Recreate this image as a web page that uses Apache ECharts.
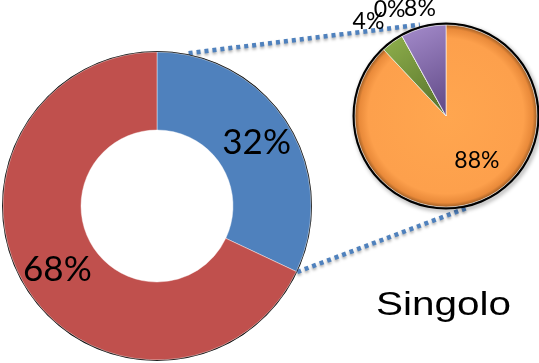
<!DOCTYPE html>
<html>
<head>
<meta charset="utf-8">
<script src="https://cdn.jsdelivr.net/npm/echarts@6/dist/echarts.min.js"></script>
<style>html,body{margin:0;padding:0;background:#fff}#c{width:539px;height:363px}</style>
</head>
<body>
<div id="c"></div>
<script>
// ---- data ----
const donutCategories = ['Parte 1', 'Parte 2'];
const donutValues = [32, 68];
const pieCategories = ['Sotto 1', 'Sotto 2', 'Sotto 3', 'Sotto 4'];
const pieValues = [88, 4, 0, 8];
const chartTitle = 'Singolo';

// ---- layout ----
const donutCenter = [157, 206];
const donutRadius = [76, 154];
const pieCenter = [446, 116];
const pieRadius = 91;

function polar(c, r, deg) {
  const a = deg * Math.PI / 180;
  return [c[0] + r * Math.sin(a), c[1] - r * Math.cos(a)];
}
const donutTotal = donutValues.reduce((a, b) => a + b, 0);
const splitAngle = donutValues[0] / donutTotal * 360;
const pieTotal = pieValues.reduce((a, b) => a + b, 0);

const l1a = polar(donutCenter, donutRadius[1] + 2, 11.7);
const l1b = polar(pieCenter, pieRadius + 4, 344);
const l2a = polar(donutCenter, donutRadius[1] + 1, splitAngle);
const l2b = polar(pieCenter, pieRadius + 3, 166);

const lineStyle = {
  stroke: '#4f81bd', lineWidth: 4.5, lineDash: [4, 4], lineCap: 'butt',
  shadowColor: 'rgba(0,0,0,0.35)', shadowBlur: 3, shadowOffsetY: 2
};

const donutColors = ['#4f81bd', '#c0504d'];
const pieColors = [
  { type: 'radial', x: 0.5, y: 0.5, r: 0.5, colorStops: [
    { offset: 0, color: '#ffa64f' }, { offset: 0.85, color: '#fda04c' },
    { offset: 0.95, color: '#e98a3a' }, { offset: 1, color: '#9a5a22' }] },
  { type: 'linear', x: 0, y: 0, x2: 1, y2: 1, colorStops: [
    { offset: 0, color: '#8fb04c' }, { offset: 1, color: '#55702a' }] },
  '#7f7f7f',
  { type: 'linear', x: 0, y: 0, x2: 1, y2: 1, colorStops: [
    { offset: 0, color: '#a58ccc' }, { offset: 1, color: '#5e4784' }] }
];
const pieLabelOffsets = [[13, -1], [-49, -55], [-33, -64], [-14, -60]];
const pieLabelSizes = [23, 23, 23, 23];
const labelFont = 'Lato, "Open Sans", sans-serif';

// labels for zero-value slices (ECharts hides them), placed like the inside labels
const zeroLabels = [];
let cum = 0;
pieValues.forEach((v, i) => {
  const start = cum / pieTotal * 360;
  cum += v;
  const end = cum / pieTotal * 360;
  if (v === 0) {
    const p = polar(pieCenter, pieRadius / 2 + 3, (start + end) / 2);
    zeroLabels.push({
      type: 'text', z: 20, x: p[0] + pieLabelOffsets[i][0], y: p[1] + pieLabelOffsets[i][1],
      style: { text: Math.round(v / pieTotal * 100) + '%', fill: '#000',
        font: pieLabelSizes[i] + 'px ' + labelFont, align: 'center', verticalAlign: 'middle' }
    });
  }
});

const chart = echarts.init(document.getElementById('c'), null, { renderer: 'canvas' });
chart.setOption({
  animation: false,
  backgroundColor: '#fff',
  graphic: [
    { type: 'line', z: 1, shape: { x1: l1a[0], y1: l1a[1], x2: l1b[0], y2: l1b[1] }, style: lineStyle },
    { type: 'line', z: 1, shape: { x1: l2a[0], y1: l2a[1], x2: l2b[0], y2: l2b[1] }, style: lineStyle },
    { type: 'text', left: 376, top: 289, z: 10, scaleX: 1.19,
      style: { text: chartTitle, font: '34px "Liberation Sans", Arial, sans-serif', fill: '#000' } }
  ].concat(zeroLabels),
  series: [
    {
      type: 'pie', silent: true, z: 2, center: donutCenter,
      radius: [donutRadius[1] - 0.5, donutRadius[1] + 1], startAngle: 90,
      label: { show: false }, labelLine: { show: false },
      itemStyle: { color: '#000' }, data: [{ value: 1, name: 'o1' }]
    },
    {
      type: 'pie', z: 3, center: donutCenter, radius: donutRadius, startAngle: 90, clockwise: true,
      avoidLabelOverlap: false,
      itemStyle: { borderColor: 'rgba(255,255,255,0.6)', borderWidth: 0.7 },
      label: { position: 'inside', formatter: '{d}%', color: '#000',
        fontFamily: labelFont, fontSize: 35 },
      labelLine: { show: false },
      data: donutCategories.map((n, i) => ({ name: n, value: donutValues[i], itemStyle: { color: donutColors[i] } }))
    },
    {
      type: 'pie', silent: true, z: 2, center: pieCenter,
      radius: [pieRadius, pieRadius + 2.5], startAngle: 90,
      label: { show: false }, labelLine: { show: false },
      itemStyle: { color: '#000', shadowColor: 'rgba(0,0,0,0.45)', shadowBlur: 4, shadowOffsetX: 1.5, shadowOffsetY: 2 },
      data: [{ value: 1, name: 'o2' }]
    },
    {
      type: 'pie', z: 3, center: pieCenter, radius: [0, pieRadius], startAngle: 90, clockwise: true,
      avoidLabelOverlap: false,
      itemStyle: { borderColor: 'rgba(255,255,255,0.7)', borderWidth: 0.8 },
      labelLine: { show: false },
      data: pieCategories.map((n, i) => ({
        name: n, value: pieValues[i],
        itemStyle: { color: pieColors[i] },
        label: { show: true, position: 'inside', formatter: '{d}%', color: '#000',
          fontFamily: labelFont, fontSize: pieLabelSizes[i],
          offset: pieLabelOffsets[i] }
      }))
    }
  ]
});
</script>
</body>
</html>
